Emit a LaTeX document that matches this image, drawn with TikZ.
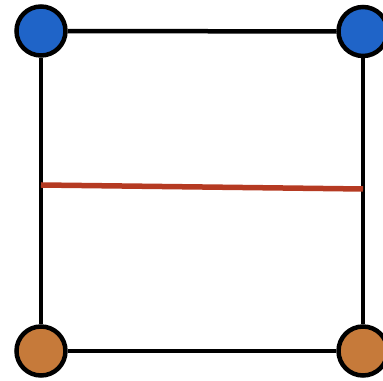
\documentclass[tikz,border=0pt]{standalone}
\usetikzlibrary{positioning}
\definecolor{cornerblue}{HTML}{1F64C8}
\definecolor{cornerorange}{HTML}{C67A3A}
\definecolor{cutred}{HTML}{B53A22}
\begin{document}
\begin{tikzpicture}[
    corner/.style={circle, draw=black, line width=0.09cm, minimum size=0.98cm, inner sep=0pt},
    edge/.style={black, line width=0.09cm},
    cut/.style={cutred, line width=0.11cm}]
            % Define dimensions
            \def\picwidth{7.66}
            \def\picheight{7.6}
            \useasboundingbox (0,0) rectangle (\picwidth,\picheight);
            % Corner points and cut ends
            \coordinate (ml) at (0.82,3.90);
            \coordinate (mr) at (7.26,3.82);
            \node[corner, fill=cornerblue] (tl) at (0.82,6.98) {};
            \node[corner, fill=cornerblue] (tr) at (7.26,6.97) {};
            \node[corner, fill=cornerorange] (bl) at (0.82,0.58) {};
            \node[corner, fill=cornerorange] (br) at (7.26,0.58) {};
            % Square sides
            \draw[edge] (tl) -- (tr);
            \draw[edge] (tr) -- (br);
            \draw[edge] (br) -- (bl);
            \draw[edge] (bl) -- (tl);
            % Horizontal cut
            \draw[cut] (ml) -- (mr);
        \end{tikzpicture}
\end{document}
